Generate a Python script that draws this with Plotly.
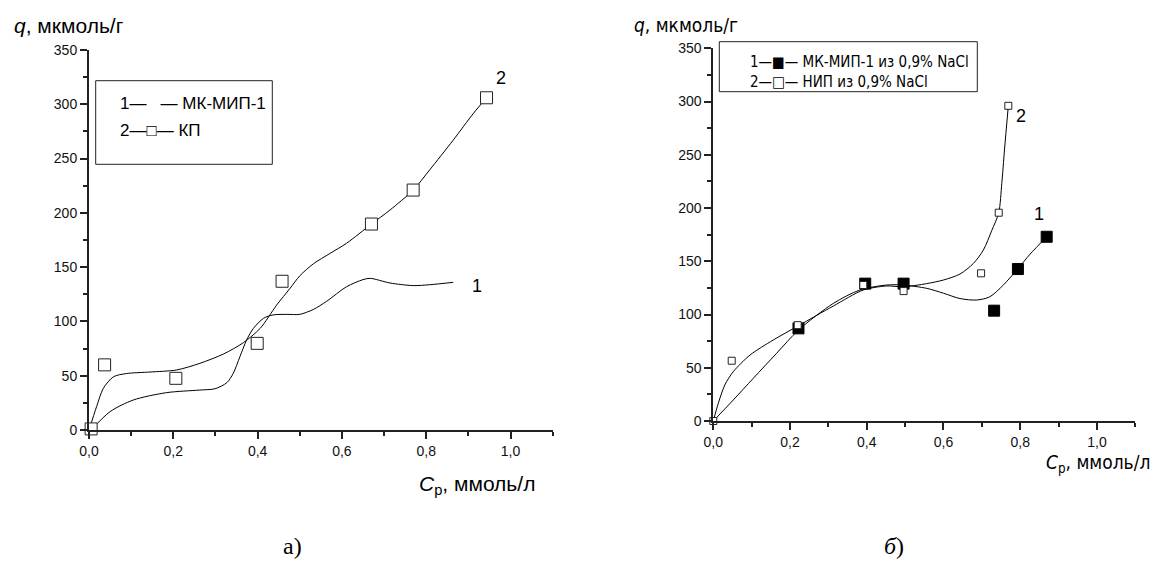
import plotly.graph_objects as go

# ---------- Panel а) data ----------
kp_x = [0.005, 0.037, 0.206, 0.399, 0.458, 0.670, 0.769, 0.943]
kp_y = [1, 60, 47.6, 79.8, 137, 189.7, 221, 306]

# fitted curve 2 (КП)
a_c2_x = [0.0, 0.018, 0.034, 0.058, 0.089, 0.145, 0.208, 0.263, 0.319, 0.366, 0.406, 0.445,
          0.477, 0.5, 0.532, 0.572, 0.611, 0.67, 0.714, 0.769, 0.808, 0.864, 0.912, 0.943]
a_c2_y = [0, 21.5, 38.4, 49, 52, 53.4, 55.3, 61.4, 70, 80.4, 93.6, 115,
          130.5, 142, 153, 162.7, 172, 189.7, 202.6, 221, 239.5, 267, 291.7, 306]

# curve 1 (МК-МИП-1)
a_c1_x = [0.005, 0.05, 0.105, 0.184, 0.263, 0.299, 0.327, 0.342, 0.358, 0.374, 0.39, 0.414,
          0.437, 0.47, 0.5, 0.532, 0.564, 0.611, 0.65, 0.667, 0.714, 0.769, 0.808, 0.864]
a_c1_y = [0, 16.9, 27.6, 34.4, 36.8, 38, 43.6, 52, 67.5, 83, 93.6, 102.9,
          106, 106.5, 106.5, 111, 118.6, 132, 138.5, 139.7, 135.4, 133, 133.8, 136]

# ---------- Panel б) data ----------
mip_x = [0.222, 0.396, 0.496, 0.732, 0.794, 0.869]
mip_y = [87, 129, 129, 103.6, 142.7, 173]
nip_x = [0.0, 0.048, 0.220, 0.391, 0.496, 0.698, 0.744, 0.769]
nip_y = [0, 56.6, 90, 127.7, 122, 138.7, 195.6, 296]

b_c1_x = [0.0, 0.052, 0.104, 0.165, 0.222, 0.313, 0.382, 0.452, 0.495, 0.556, 0.6, 0.643,
          0.687, 0.721, 0.756, 0.794, 0.826, 0.869]
b_c1_y = [0, 19.7, 40, 63.6, 85.4, 110.5, 123, 127.7, 127.7, 124.6, 120, 115,
          113.6, 116.7, 127.7, 143, 156.8, 173]
b_c2_x = [0.0, 0.013, 0.03, 0.052, 0.096, 0.156, 0.222, 0.313, 0.391, 0.452, 0.495, 0.556,
          0.6, 0.643, 0.678, 0.704, 0.726, 0.744, 0.752, 0.759, 0.769]
b_c2_y = [0, 16.6, 33.8, 46.3, 62, 76, 89.5, 108, 123, 126.8, 126, 129,
          132.4, 138, 148, 160.6, 179, 195.6, 223, 254.5, 296]

x_ticks = [0.0, 0.2, 0.4, 0.6, 0.8, 1.0]
y_ticks = [0, 50, 100, 150, 200, 250, 300, 350]

FONT = "Liberation Sans, Arial, sans-serif"
NARROW = "DejaVu Sans Condensed, Liberation Sans Narrow, Liberation Sans, Arial, sans-serif"
AX = "#222222"

fig = go.Figure()

line_style = dict(color="black", width=1, shape="spline", smoothing=0.8)

fig.add_trace(go.Scatter(x=a_c2_x, y=a_c2_y, mode="lines", line=line_style,
                         xaxis="x", yaxis="y", hoverinfo="skip"))
fig.add_trace(go.Scatter(x=a_c1_x, y=a_c1_y, mode="lines", line=line_style,
                         xaxis="x", yaxis="y", hoverinfo="skip"))
fig.add_trace(go.Scatter(x=kp_x, y=kp_y, mode="markers", cliponaxis=False,
                         marker=dict(symbol="square", size=12, color="white",
                                     line=dict(color="#222", width=1)),
                         xaxis="x", yaxis="y"))

fig.add_trace(go.Scatter(x=b_c1_x, y=b_c1_y, mode="lines", line=line_style,
                         xaxis="x2", yaxis="y2", hoverinfo="skip"))
fig.add_trace(go.Scatter(x=b_c2_x, y=b_c2_y, mode="lines", line=line_style,
                         xaxis="x2", yaxis="y2", hoverinfo="skip"))
fig.add_trace(go.Scatter(x=mip_x, y=mip_y, mode="markers", cliponaxis=False,
                         marker=dict(symbol="square", size=11, color="black",
                                     line=dict(color="black", width=1)),
                         xaxis="x2", yaxis="y2"))
fig.add_trace(go.Scatter(x=nip_x, y=nip_y, mode="markers", cliponaxis=False,
                         marker=dict(symbol="square", size=7, color="white",
                                     line=dict(color="#222", width=1)),
                         xaxis="x2", yaxis="y2"))

W, H = 1156, 562


def px(xp):
    return xp / W


def py(yp):
    return 1 - yp / H


xcommon = dict(range=[0, 1.1], tickvals=x_ticks, tickformat=".1f", ticks="outside",
               ticklen=7, tickwidth=1.5, tickcolor=AX, showline=True, linecolor=AX,
               linewidth=2, showgrid=False, zeroline=False, automargin=False,
               tickfont=dict(family=FONT, size=14, color="#111"),
               minor=dict(dtick=0.1, tick0=0, ticks="outside", ticklen=4, tickcolor=AX, tickwidth=1.5))
ycommon = dict(range=[0, 350], tickvals=y_ticks, ticks="outside", ticklen=7, tickwidth=1.5,
               tickcolor=AX, showline=True, linecolor=AX, linewidth=2, showgrid=False,
               zeroline=False, automargin=False, tickfont=dict(family=FONT, size=14, color="#111"),
               minor=dict(dtick=25, tick0=0, ticks="outside", ticklen=4, tickcolor=AX, tickwidth=1.5))

fig.update_layout(
    width=W, height=H, margin=dict(l=0, r=0, t=0, b=0, pad=0),
    plot_bgcolor="white", paper_bgcolor="white", showlegend=False,
    separators=", ",
    xaxis=dict(domain=[px(89), px(552.7)], anchor="y", **xcommon),
    yaxis=dict(domain=[py(430), py(50)], anchor="x", **ycommon),
    xaxis2=dict(domain=[px(713.3), px(1135.3)], anchor="y2", **xcommon),
    yaxis2=dict(domain=[py(421), py(48.3)], anchor="x2", **ycommon),
)

shapes = [
    dict(type="rect", xref="paper", yref="paper", x0=px(95.7), x1=px(272.3),
         y0=py(164.3), y1=py(80.7), line=dict(color="#222", width=1)),
    dict(type="rect", xref="paper", yref="paper", x0=px(719.3), x1=px(977.3),
         y0=py(91.7), y1=py(41.7), line=dict(color="#222", width=1)),
]
fig.update_layout(shapes=shapes)

ann = []


def t(text, x, y, size, family=FONT, xanchor="left", yanchor="middle", xref="paper", yref="paper"):
    ann.append(dict(text=text, x=x, y=y, xref=xref, yref=yref, xanchor=xanchor,
                    yanchor=yanchor, showarrow=False,
                    font=dict(family=family, size=size, color="black")))


# legends
t("1—   — МК-МИП-1", px(118), py(104), 17)
t("2—□— КП", px(118), py(130), 17)
t("1—■— МК-МИП-1 из 0,9% NaCl", px(748), py(61.7), 15, NARROW)
t("2—□— НИП из 0,9% NaCl", px(748), py(81.7), 15, NARROW)

# axis titles
t("<i>q</i>, мкмоль/г", px(12), py(25), 21)
t("<i>q</i>, мкмоль/г", px(632), py(25), 19, NARROW)
t("<i>C</i><sub>p</sub>, ммоль/л", px(416.7), py(485), 21)
t("<i>C</i><sub>p</sub>, ммоль/л", px(1152), py(463), 19, NARROW, xanchor="right")

# curve labels
t("1", 0.92, 132.6, 18, xanchor="center", xref="x", yref="y")
t("2", 0.977, 324, 18, xanchor="center", xref="x", yref="y")
t("1", 0.849, 194, 18, xanchor="center", xref="x2", yref="y2")
t("2", 0.802, 286, 18, xanchor="center", xref="x2", yref="y2")

# panel captions
t("а)", px(292), py(546), 24, "Liberation Serif, Times New Roman, serif", xanchor="center")
t("<i>б</i>)", px(894), py(546), 24, "Liberation Serif, Times New Roman, serif", xanchor="center")

fig.update_layout(annotations=ann)

fig.write_html("out.html", config={"displayModeBar": False},
               post_script="document.body.style.margin='0px';document.body.style.overflow='hidden';")
